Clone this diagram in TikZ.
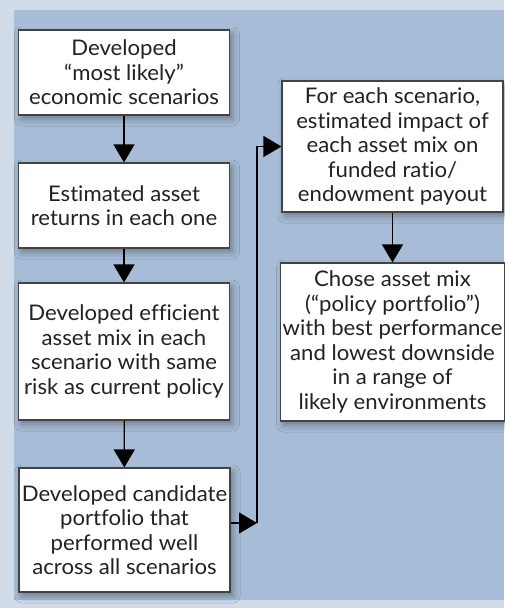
\documentclass[tikz,border=0pt]{standalone}
\usepackage{fontspec}
\setmainfont{Lato}[Ligatures=NoCommon, FakeStretch=1.03]
\usetikzlibrary{arrows.meta,shadows.blur}
\definecolor{outerbg}{HTML}{D1DBEA}
\definecolor{panel}{HTML}{A7BDD7}
\definecolor{ink}{HTML}{222222}
\tikzset{
  stepbox/.style={draw=ink!85, line width=1.1pt, fill=white, inner sep=2pt,
    align=center, text=ink, font=\fontsize{21.5}{24.5}\selectfont,
    blur shadow={shadow xshift=3pt, shadow yshift=-4pt, shadow blur radius=7pt, shadow opacity=35}},
  flow/.style={draw=black, line width=1.2pt, -{Triangle[width=21pt,length=18pt]}}
}
\begin{document}
\begin{tikzpicture}[x=1pt,y=-1pt]
\fill[outerbg] (0,0) rectangle (504,608);
\fill[panel] (14,10) rectangle (504,600);
\useasboundingbox (0,0) rectangle (504,608);
\node[stepbox, minimum width=211pt, minimum height=85pt] (b1) at (124,72.5)
  {Developed\\“most likely”\\economic scenarios};
\node[stepbox, minimum width=211pt, minimum height=85pt] (b2) at (124,205.5)
  {Estimated asset\\returns in each one};
\node[stepbox, minimum width=211pt, minimum height=137pt] (b3) at (124,351.5)
  {Developed efficient\\asset mix in each\\scenario with same\\risk as current policy};
\node[stepbox, minimum width=211pt, minimum height=124pt] (b4) at (124.5,530)
  {Developed candidate\\portfolio that\\performed well\\across all scenarios};
\node[stepbox, minimum width=221pt, minimum height=131pt] (ba) at (392.5,146.5)
  {For each scenario,\\estimated impact of\\each asset mix on\\funded ratio/\\endowment payout};
\node[stepbox, minimum width=221pt, minimum height=158pt] (bb) at (392.5,342)
  {Chose asset mix\\(“policy portfolio”)\\with best performance\\and lowest downside\\in a range of\\likely environments};
\draw[flow] (b1) -- (b2);
\draw[flow] (b2) -- (b3);
\draw[flow] (b3) -- (b4);
\coordinate (turn) at (257,523);
\draw[flow] (b4.east |- turn) -- (turn);
\draw[flow] (turn) |- (ba.west);
\draw[flow] (ba) -- (bb);
\end{tikzpicture}
\end{document}
